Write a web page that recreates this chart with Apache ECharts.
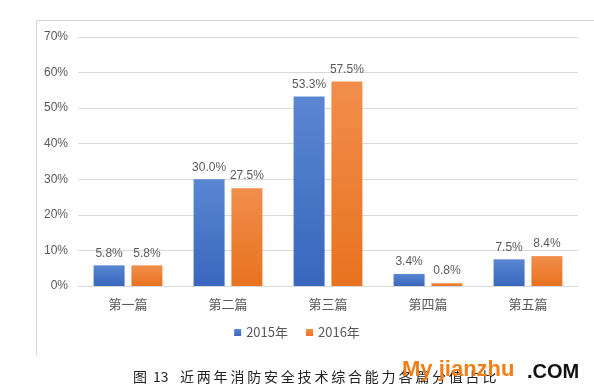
<!DOCTYPE html>
<html>
<head>
<meta charset="utf-8">
<script src="https://cdn.jsdelivr.net/npm/echarts@6/dist/echarts.min.js"></script>
<style>
  html, body { margin: 0; padding: 0; background: #fff; }
  #main { width: 594px; height: 391px; }
</style>
</head>
<body>
<div id="main"></div>
<script>
// 各篇分值占比 (%)
var categories = ['第一篇', '第二篇', '第三篇', '第四篇', '第五篇'];
var seriesNames = ['2015年', '2016年'];
var data2015 = [5.8, 30.0, 53.3, 3.4, 7.5];
var data2016 = [5.8, 27.5, 57.5, 0.8, 8.4];
var captionHead = ['图', '13'];
var captionBody = '近两年消防安全技术综合能力各篇分值占比';

var chart = echarts.init(document.getElementById('main'));

function grad(top, bottom) {
  return new echarts.graphic.LinearGradient(0, 0, 0, 1, [
    { offset: 0, color: top },
    { offset: 1, color: bottom }
  ]);
}

var barLabel = {
  show: true,
  position: 'top',
  distance: 6,
  color: '#595959',
  fontSize: 12,
  fontFamily: 'Liberation Sans, Arial, sans-serif',
  formatter: function (p) { return p.value.toFixed(1) + '%'; }
};

// 图注：字间距较宽，逐字排放
var captionStyle = { fill: '#222', fontSize: 14, fontFamily: '"Noto Sans CJK SC", sans-serif' };
var captionItems = [
  { type: 'text', x: 133, y: 370, style: Object.assign({ text: captionHead[0] }, captionStyle) },
  { type: 'text', x: 153, y: 370, style: Object.assign({ text: captionHead[1] }, captionStyle) }
];
captionBody.split('').forEach(function (ch, i) {
  captionItems.push({
    type: 'text',
    x: 180 + i * 16.8,
    y: 370,
    style: Object.assign({ text: ch }, captionStyle)
  });
});

var option = {
  backgroundColor: '#fff',
  animation: false,
  textStyle: { fontFamily: '"Noto Sans CJK SC", sans-serif' },
  grid: { left: 78, right: 16, top: 37, bottom: 105 },
  legend: {
    data: seriesNames,
    bottom: 47,
    left: 'center',
    itemWidth: 7,
    itemHeight: 7,
    itemGap: 18,
    icon: 'rect',
    textStyle: { color: '#595959', fontSize: 13 }
  },
  xAxis: {
    type: 'category',
    data: categories,
    axisLine: { lineStyle: { color: '#d9d9d9' } },
    axisTick: { show: false },
    axisLabel: { color: '#595959', fontSize: 13, margin: 12 }
  },
  yAxis: {
    type: 'value',
    min: 0,
    max: 70,
    interval: 10,
    axisLine: { show: false },
    axisTick: { show: false },
    axisLabel: {
      color: '#595959',
      fontSize: 12,
      margin: 10,
      fontFamily: 'Liberation Sans, Arial, sans-serif',
      formatter: '{value}%'
    },
    splitLine: { lineStyle: { color: '#d9d9d9' } }
  },
  series: [
    {
      name: seriesNames[0],
      type: 'bar',
      data: data2015,
      barWidth: '31%',
      barGap: '22%',
      itemStyle: { color: grad('#5a86d2', '#3a66bd') },
      label: barLabel
    },
    {
      name: seriesNames[1],
      type: 'bar',
      data: data2016,
      barWidth: '31%',
      itemStyle: { color: grad('#f18e4c', '#e8721f') },
      label: barLabel
    }
  ],
  graphic: [
    {
      type: 'polyline',
      shape: { points: [[36.5, 355], [36.5, 20.5], [594, 20.5]] },
      style: { fill: 'none', stroke: '#d4d4d4', lineWidth: 1 },
      silent: true
    }
  ].concat(captionItems).concat([
    {
      type: 'text',
      x: 402,
      y: 359,
      style: {
        text: 'My jianzhu',
        fill: '#f07f1a',
        fontSize: 22,
        fontWeight: 'bold',
        fontFamily: 'Liberation Sans, Arial, sans-serif'
      }
    },
    {
      type: 'text',
      x: 527,
      y: 362,
      style: {
        text: '.COM',
        fill: '#111',
        fontSize: 20,
        fontWeight: 'bold',
        fontFamily: 'Liberation Sans, Arial, sans-serif'
      }
    }
  ])
};

chart.setOption(option);
</script>
</body>
</html>
